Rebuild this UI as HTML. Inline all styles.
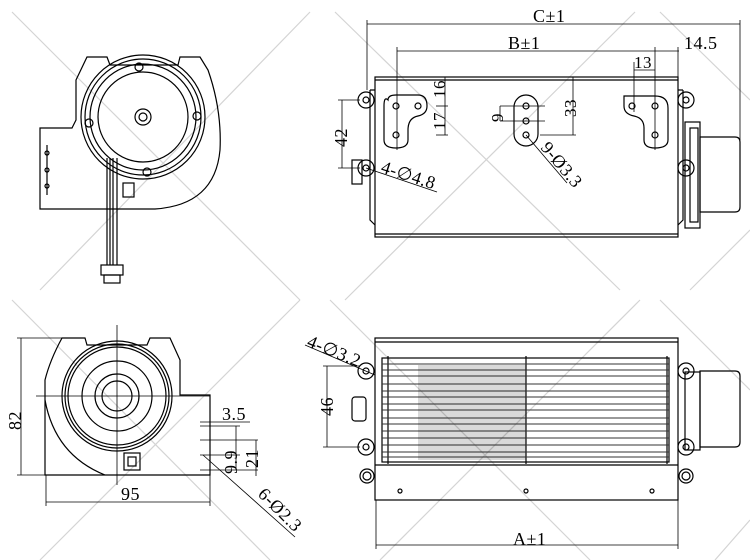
<!DOCTYPE html>
<html><head><meta charset="utf-8"><style>
html,body{margin:0;padding:0;background:#fff;}
svg{display:block;}
text{font-family:"Liberation Serif",serif;fill:#000;letter-spacing:0.5px;}
</style></head><body>
<svg width="750" height="560" viewBox="0 0 750 560" xmlns="http://www.w3.org/2000/svg">
<g stroke="#d4d4d4" stroke-width="1.2">
<line x1="12" y1="12" x2="300" y2="300"/><line x1="310" y1="12" x2="40" y2="290"/>
<line x1="335" y1="12" x2="620" y2="290"/><line x1="635" y1="12" x2="345" y2="300"/>
<line x1="660" y1="12" x2="750" y2="100"/><line x1="750" y1="230" x2="690" y2="290"/>
<line x1="12" y1="300" x2="270" y2="560"/><line x1="300" y1="300" x2="40" y2="560"/>
<line x1="330" y1="300" x2="590" y2="560"/><line x1="640" y1="300" x2="380" y2="560"/>
<line x1="660" y1="300" x2="750" y2="390"/><line x1="750" y1="520" x2="715" y2="560"/>
</g>
<g fill="none" stroke="#000" stroke-width="1.2">
<path d="M40 128 L72 128 L76 120 L76 80 L87 57 L107 57 L110 65 L178 65 L180 57 L200 57 L208 70 Q222 110 220 150 Q215 205 155 209 L40 209 Z"/>
<circle cx="143" cy="117" r="62"/><circle cx="143" cy="117" r="58"/><circle cx="143" cy="117" r="53"/><circle cx="143" cy="117" r="45"/>
<circle cx="143" cy="117" r="8"/><circle cx="143" cy="117" r="4"/>
<circle cx="139" cy="67" r="4"/><circle cx="89" cy="123" r="4"/><circle cx="197" cy="116" r="4"/><circle cx="147" cy="172" r="4"/>
<line x1="107" y1="158" x2="107" y2="265"/><line x1="110" y1="158" x2="110" y2="265"/><line x1="113" y1="158" x2="113" y2="265"/><line x1="117" y1="158" x2="117" y2="265"/>
<rect x="101" y="265" width="22" height="10"/><rect x="104" y="275" width="16" height="8"/>
<rect x="123" y="183" width="11" height="14"/>
<line x1="47" y1="145" x2="47" y2="195"/>
<circle cx="47" cy="153" r="2"/><circle cx="47" cy="170" r="2"/><circle cx="47" cy="186" r="2"/>
<rect x="375" y="77" width="303" height="160"/>
<line x1="375" y1="80" x2="678" y2="80"/><line x1="375" y1="234" x2="678" y2="234"/>
<path d="M370 90 L375 90 M370 90 L370 220 L375 225"/>
<path d="M683 90 L678 90 M683 90 L683 220 L678 225"/>
<path d="M358 100 a8 8 0 1 1 16 0 a8 8 0 1 1 -16 0"/><circle cx="366" cy="100" r="3"/>
<path d="M358 168 a8 8 0 1 1 16 0 a8 8 0 1 1 -16 0"/><circle cx="366" cy="168" r="3"/>
<path d="M678 100 a8 8 0 1 1 16 0 a8 8 0 1 1 -16 0"/><circle cx="686" cy="100" r="3"/>
<path d="M678 168 a8 8 0 1 1 16 0 a8 8 0 1 1 -16 0"/><circle cx="686" cy="168" r="3"/>
<rect x="352" y="160" width="10" height="24"/>
<rect x="685" y="122" width="15" height="106"/><rect x="690" y="128" width="8" height="94"/>
<path d="M700 137 L735 137 Q740 137 740 142 L740 207 Q740 212 735 212 L700 212 Z"/>
<path d="M388 100 Q388 95 396 95 L418 95 Q427 95 427 106 Q427 114 418 116 Q408 118 408 130 L408 140 Q408 148 396 148 Q384 148 384 140 L384 106 Q384 96 388 100Z"/>
<circle cx="396" cy="106" r="3"/><circle cx="418" cy="106" r="3"/><circle cx="396" cy="135" r="3"/>
<rect x="514" y="95" width="24" height="51" rx="12"/>
<circle cx="526" cy="106" r="3"/><circle cx="526" cy="121" r="3"/><circle cx="526" cy="135" r="3"/>
<path d="M624 96 L655 96 Q668 96 668 108 L668 140 Q668 148 655 148 Q644 148 644 140 L644 128 Q644 118 634 116 Q624 114 624 106 Z"/>
<circle cx="632" cy="106" r="3"/><circle cx="655" cy="106" r="3"/><circle cx="655" cy="135" r="3"/>
<path d="M45 475 L45 380 Q50 360 62 338 L85 338 L87 345 L147 345 L150 338 L170 338 L180 360 L180 395 L210 395 L210 475 Z"/>
<path d="M45 400 Q55 455 105 475"/>
<circle cx="117" cy="396" r="55"/><circle cx="117" cy="396" r="52"/><circle cx="117" cy="396" r="49"/><circle cx="117" cy="396" r="35"/>
<circle cx="117" cy="396" r="22"/><circle cx="117" cy="396" r="15"/>
<rect x="124" y="453" width="16" height="17"/><rect x="128" y="457" width="8" height="9"/>
<rect x="375" y="338" width="303" height="162"/>
<line x1="375" y1="342" x2="678" y2="342"/>
<line x1="375" y1="465" x2="678" y2="465"/>
<rect x="382" y="358" width="287" height="104"/>
<line x1="388" y1="356" x2="388" y2="464"/><line x1="526" y1="356" x2="526" y2="464"/><line x1="667" y1="356" x2="667" y2="464"/>
<path d="M358 371 a8 8 0 1 1 16 0 a8 8 0 1 1 -16 0"/><circle cx="366" cy="371" r="3"/>
<path d="M358 447 a8 8 0 1 1 16 0 a8 8 0 1 1 -16 0"/><circle cx="366" cy="447" r="3"/>
<path d="M678 371 a8 8 0 1 1 16 0 a8 8 0 1 1 -16 0"/><circle cx="686" cy="371" r="3"/>
<path d="M678 447 a8 8 0 1 1 16 0 a8 8 0 1 1 -16 0"/><circle cx="686" cy="447" r="3"/>
<path d="M360 476 a7 7 0 1 1 14 0 a7 7 0 1 1 -14 0"/><circle cx="367" cy="476" r="4"/>
<path d="M679 476 a7 7 0 1 1 14 0 a7 7 0 1 1 -14 0"/><circle cx="686" cy="476" r="4"/>
<rect x="352" y="397" width="14" height="24" rx="3"/>
<rect x="685" y="372" width="15" height="78"/>
<path d="M700 371 L735 371 Q740 371 740 376 L740 442 Q740 447 735 447 L700 447 Z"/>
<circle cx="400" cy="491" r="2"/><circle cx="526" cy="491" r="2"/><circle cx="652" cy="491" r="2"/>
</g>
<g stroke="#333" stroke-width="1">
<line x1="382" y1="364" x2="669" y2="364"/><line x1="382" y1="370" x2="669" y2="370"/><line x1="382" y1="376" x2="669" y2="376"/>
<line x1="382" y1="384" x2="669" y2="384"/><line x1="382" y1="391" x2="669" y2="391"/><line x1="382" y1="397" x2="669" y2="397"/>
<line x1="382" y1="404" x2="669" y2="404"/><line x1="382" y1="410" x2="669" y2="410"/><line x1="382" y1="418" x2="669" y2="418"/>
<line x1="382" y1="424" x2="669" y2="424"/><line x1="382" y1="431" x2="669" y2="431"/><line x1="382" y1="438" x2="669" y2="438"/>
<line x1="382" y1="445" x2="669" y2="445"/><line x1="382" y1="452" x2="669" y2="452"/><line x1="382" y1="457" x2="669" y2="457"/>
</g>
<rect x="418" y="365" width="108" height="95" fill="#000" opacity="0.15"/>
<g stroke="#000" stroke-width="0.8" fill="none">
<line x1="367" y1="24" x2="740" y2="24"/><line x1="367" y1="20" x2="367" y2="90"/><line x1="740" y1="20" x2="740" y2="140"/>
<line x1="397" y1="51" x2="679" y2="51"/><line x1="397" y1="47" x2="397" y2="150"/><line x1="655" y1="47" x2="655" y2="150"/><line x1="678" y1="47" x2="678" y2="77"/>
<line x1="634" y1="70" x2="655" y2="70"/><line x1="634" y1="62" x2="634" y2="112"/>
<line x1="342" y1="100" x2="342" y2="168"/><line x1="338" y1="100" x2="360" y2="100"/><line x1="338" y1="168" x2="360" y2="168"/>
<line x1="445" y1="77" x2="445" y2="135"/><line x1="436" y1="106" x2="448" y2="106"/><line x1="436" y1="135" x2="448" y2="135"/>
<line x1="573" y1="77" x2="573" y2="135"/><line x1="540" y1="135" x2="576" y2="135"/>
<line x1="500" y1="106" x2="545" y2="106"/><line x1="500" y1="121" x2="545" y2="121"/><line x1="500" y1="106" x2="500" y2="121"/>
<line x1="366" y1="168" x2="437" y2="192"/>
<line x1="526" y1="135" x2="567" y2="183"/>
<line x1="21" y1="338" x2="21" y2="475"/><line x1="17" y1="338" x2="65" y2="338"/><line x1="17" y1="475" x2="45" y2="475"/>
<line x1="46" y1="502" x2="210" y2="502"/><line x1="46" y1="475" x2="46" y2="506"/><line x1="210" y1="475" x2="210" y2="506"/>
<line x1="117" y1="325" x2="117" y2="485"/><line x1="36" y1="396" x2="210" y2="396"/>
<line x1="200" y1="422" x2="250" y2="422"/><line x1="200" y1="426" x2="240" y2="426"/><line x1="200" y1="440" x2="258" y2="440"/><line x1="200" y1="455" x2="240" y2="455"/><line x1="200" y1="470" x2="258" y2="470"/>
<line x1="236" y1="426" x2="236" y2="470"/><line x1="256" y1="440" x2="256" y2="476"/>
<line x1="203" y1="455" x2="295" y2="537"/>
<line x1="327" y1="366" x2="327" y2="447"/><line x1="323" y1="366" x2="360" y2="366"/><line x1="323" y1="447" x2="360" y2="447"/>
<line x1="305" y1="345" x2="375" y2="375"/>
<line x1="376" y1="545" x2="678" y2="545"/><line x1="376" y1="500" x2="376" y2="549"/><line x1="678" y1="500" x2="678" y2="549"/>
</g>
<g font-size="18">
<text x="533" y="22">C±1</text>
<text x="508" y="49">B±1</text>
<text x="684" y="49">14.5</text>
<text x="634" y="68" font-size="17">13</text>
<text x="513" y="545">A±1</text>
<text x="121" y="500">95</text>
<text x="222" y="420">3.5</text>
<text transform="translate(347,147) rotate(-90)">42</text>
<text transform="translate(445,98) rotate(-90)" font-size="17">16</text>
<text transform="translate(445,130) rotate(-90)" font-size="17">17</text>
<text transform="translate(576,117) rotate(-90)" font-size="17">33</text>
<text transform="translate(503,122) rotate(-90)" font-size="17">9</text>
<text transform="translate(21,430) rotate(-90)">82</text>
<text transform="translate(333,416) rotate(-90)">46</text>
<text transform="translate(237,474) rotate(-90)">9.9</text>
<text transform="translate(258,468) rotate(-90)">21</text>
<text transform="translate(380,172) rotate(18)">4-∅4.8</text>
<text transform="translate(540,148) rotate(50)">9-Ø3.3</text>
<text transform="translate(257,495) rotate(45)">6-Ø2.3</text>
<text transform="translate(306,346) rotate(22)">4-∅3.2</text>
</g>
</svg>
</body></html>
